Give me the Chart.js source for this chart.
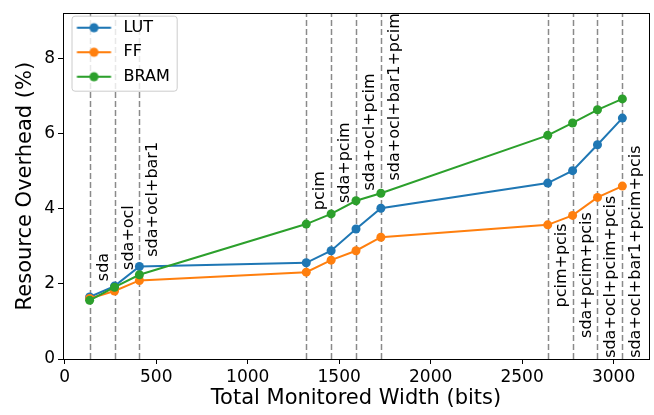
<!DOCTYPE html>
<html>
<head>
<meta charset="utf-8">
<script src="https://cdn.jsdelivr.net/npm/chart.js@4"></script>
<style>
  html, body { margin: 0; padding: 0; background: #fff; }
  canvas { display: block; }
</style>
</head>
<body>
<canvas id="myChart" width="654" height="415"></canvas>
<script>
// monitored configurations and their total width in bits
const configs = ['sda', 'sda+ocl', 'sda+ocl+bar1', 'pcim', 'sda+pcim', 'sda+ocl+pcim',
    'sda+ocl+bar1+pcim', 'pcim+pcis', 'sda+pcim+pcis', 'sda+ocl+pcim+pcis', 'sda+ocl+bar1+pcim+pcis'];
const widths = [136, 272, 408, 1320, 1456, 1592, 1728, 2640, 2776, 2912, 3048];

// overhead in %
const lut  = [1.65, 1.94, 2.46, 2.56, 2.88, 3.46, 4.01, 4.68, 5.01, 5.70, 6.41];
const ff   = [1.61, 1.81, 2.09, 2.31, 2.63, 2.88, 3.24, 3.57, 3.82, 4.30, 4.60];
const bram = [1.56, 1.91, 2.24, 3.59, 3.86, 4.21, 4.41, 5.95, 6.28, 6.63, 6.92];

// where each config label starts (y value)
const labelAt = [2.07, 2.37, 2.72, 3.96, 4.15, 4.48, 4.75, 1.37, 0.56, 0.03, 0.03];

const xTicks = [0, 500, 1000, 1500, 2000, 2500, 3000];
const yTicks = [0, 2, 4, 6, 8];

const FONT = "'DejaVu Sans', sans-serif";
Chart.defaults.font.family = FONT;
Chart.defaults.color = '#000';

function legendIcon(color) {
    const c = document.createElement('canvas');
    c.width = 44;
    c.height = 14;
    const g = c.getContext('2d');
    g.strokeStyle = color;
    g.lineWidth = 2;
    g.beginPath();
    g.moveTo(5.5, 7);
    g.lineTo(39.5, 7);
    g.stroke();
    g.fillStyle = color;
    g.beginPath();
    g.arc(22.5, 7, 4.5, 0, Math.PI * 2);
    g.fill();
    return c;
}

function series(label, values, color, order) {
    return {
        label: label,
        data: widths.map((w, i) => ({x: w, y: values[i]})),
        borderColor: color,
        backgroundColor: color,
        borderWidth: 2,
        pointStyle: 'circle',
        pointRadius: 4.5,
        pointHoverRadius: 4.5,
        pointBorderWidth: 0,
        order: order
    };
}

const configLines = {
    id: 'configLines',
    beforeDatasetsDraw(chart) {
        const {ctx, chartArea, scales: {x}} = chart;
        ctx.save();
        ctx.strokeStyle = '#8a8a8a';
        ctx.lineWidth = 1.5;
        ctx.setLineDash([6, 3]);
        widths.forEach(w => {
            const px = Math.round(x.getPixelForValue(w)) + 0.5;
            ctx.beginPath();
            ctx.moveTo(px, chartArea.bottom);
            ctx.lineTo(px, chartArea.top);
            ctx.stroke();
        });
        ctx.restore();
    },
    afterDatasetsDraw(chart) {
        const {ctx, chartArea, scales: {x, y}} = chart;
        ctx.save();
        ctx.font = '16px ' + FONT;
        ctx.fillStyle = '#000';
        ctx.textAlign = 'left';
        ctx.textBaseline = 'alphabetic';
        configs.forEach((name, i) => {
            ctx.save();
            ctx.translate(x.getPixelForValue(widths[i]) + 18, y.getPixelForValue(labelAt[i]));
            ctx.rotate(-Math.PI / 2);
            ctx.fillText(name, 0, 0);
            ctx.restore();
        });

        // legend frame, then legend again on top of it
        const boxes = chart.legend.legendHitBoxes;
        if (boxes && boxes.length) {
            const first = boxes[0], last = boxes[boxes.length - 1];
            const left = first.left;
            const top = first.top - 4;
            const right = Math.max(...boxes.map(b => b.left + b.width)) + 7;
            const bottom = last.top + last.height + 6;
            ctx.beginPath();
            ctx.roundRect(left + 0.5, top + 0.5, right - left, bottom - top, 3);
            ctx.fillStyle = 'rgba(255,255,255,0.8)';
            ctx.fill();
            ctx.strokeStyle = '#cccccc';
            ctx.lineWidth = 1;
            ctx.stroke();
        }
        ctx.restore();
        chart.legend.draw();

        ctx.save();
        ctx.strokeStyle = '#000';
        ctx.lineWidth = 1;
        ctx.strokeRect(Math.round(chartArea.left) + 0.5, Math.round(chartArea.top) + 0.5,
            Math.round(chartArea.width), Math.round(chartArea.height));
        ctx.restore();
    }
};

const options = {
    type: 'line',
    data: {
        datasets: [
            series('LUT', lut, '#1f77b4', 3),
            series('FF', ff, '#ff7f0e', 2),
            series('BRAM', bram, '#2ca02c', 1)
        ]
    },
    options: {
        responsive: false,
        animation: false,
        devicePixelRatio: 1,
        layout: {padding: {top: 6, right: 5, left: 0, bottom: 0}},
        plugins: {
            tooltip: {enabled: false},
            legend: {
                position: 'chartArea',
                align: 'start',
                title: {display: true, text: '', font: {size: 1}, padding: {top: 10, bottom: 0}},
                labels: {
                    usePointStyle: true,
                    pointStyleWidth: 44,
                    padding: 8.5,
                    color: '#000',
                    font: {size: 16},
                    sort: (a, b) => a.datasetIndex - b.datasetIndex,
                    generateLabels(chart) {
                        const items = Chart.defaults.plugins.legend.labels.generateLabels(chart);
                        items.forEach(it => {
                            it.pointStyle = legendIcon(chart.data.datasets[it.datasetIndex].borderColor);
                        });
                        return items;
                    }
                }
            }
        },
        scales: {
            x: {
                type: 'linear',
                min: -9.6,
                max: 3193.6,
                afterBuildTicks: s => { s.ticks = xTicks.map(v => ({value: v})); },
                afterFit: s => { s.height = 56; },
                border: {display: false},
                grid: {drawOnChartArea: false, drawTicks: true, tickLength: 5, tickColor: '#000'},
                ticks: {font: {size: 17}, padding: 3, maxRotation: 0, callback: v => String(v)},
                title: {
                    display: true,
                    text: 'Total Monitored Width (bits)',
                    font: {size: 21},
                    padding: {top: 0, bottom: 4}
                }
            },
            y: {
                min: 0,
                max: 9.2,
                afterBuildTicks: s => { s.ticks = yTicks.map(v => ({value: v})); },
                afterFit: s => { s.width = 63; },
                border: {display: false},
                grid: {drawOnChartArea: false, drawTicks: true, tickLength: 5, tickColor: '#000'},
                ticks: {font: {size: 17}, padding: 3, callback: v => String(v)},
                title: {
                    display: true,
                    text: 'Resource Overhead (%)',
                    font: {size: 21},
                    padding: {top: 13, bottom: 0}
                }
            }
        }
    },
    plugins: [configLines]
};

const ctx = document.getElementById('myChart').getContext('2d');
const chart = new Chart(ctx, options);
</script>
</body>
</html>
